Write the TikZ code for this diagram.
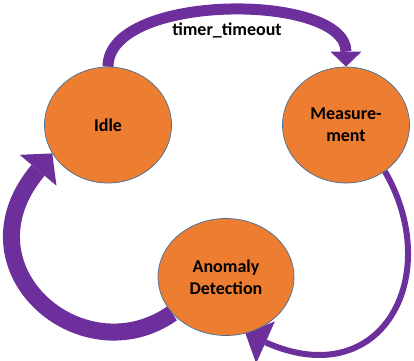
\documentclass[tikz,border=0pt]{standalone}
\usepackage{fontspec}
\setmainfont{Carlito}
\usepackage{tikz}
\usetikzlibrary{shapes.geometric, arrows.meta, backgrounds}

\definecolor{StateOrange}{HTML}{ED7D31}
\definecolor{StateBlue}{HTML}{41719C}
\definecolor{FlowPurple}{HTML}{6C2F9C}

\tikzset{
	state/.style={ellipse, draw=StateBlue, line width=0.7pt, fill=StateOrange, inner sep=0pt, align=center, font=\fontsize{18}{22}\selectfont\bfseries, text=black},
	flow/.style={draw=FlowPurple, line cap=butt}
}

\begin{document}
\begin{tikzpicture}[x=1pt, y=1pt]

\useasboundingbox (0,0) rectangle (414,360);

\node[state, minimum width=127pt, minimum height=116pt] (idle) at (108,235) {Idle};
\node[state, minimum width=127pt, minimum height=116pt] (meas) at (346,235) {Measure-\\ment};
\node[state, minimum width=136pt, minimum height=117pt] (anom) at (226,83) {Anomaly\\Detection};

\begin{scope}[on background layer]
	\draw[flow, line width=11pt, -{Triangle[length=15pt, width=31pt, line width=0pt 0 0]}] (idle.north) to[out=90, in=90, looseness=0.8] node[midway, below=3pt, font=\fontsize{18}{22}\selectfont\bfseries] (lbl) {timer\_timeout} (meas.north);
	\draw[flow, line width=6pt, -{Triangle[length=22pt, width=46pt, line width=0pt 0 0]}] (meas.-50) to[out=-60, in=-24, out distance=120pt, in distance=150pt] (anom.-71);
	\draw[flow, line width=17pt, -{Triangle[length=22pt, width=48pt, line width=0pt 0 0]}] (anom.214) to[out=215, in=230, out distance=110pt, in distance=150pt] (idle.207);
\end{scope}

\end{tikzpicture}
\end{document}
